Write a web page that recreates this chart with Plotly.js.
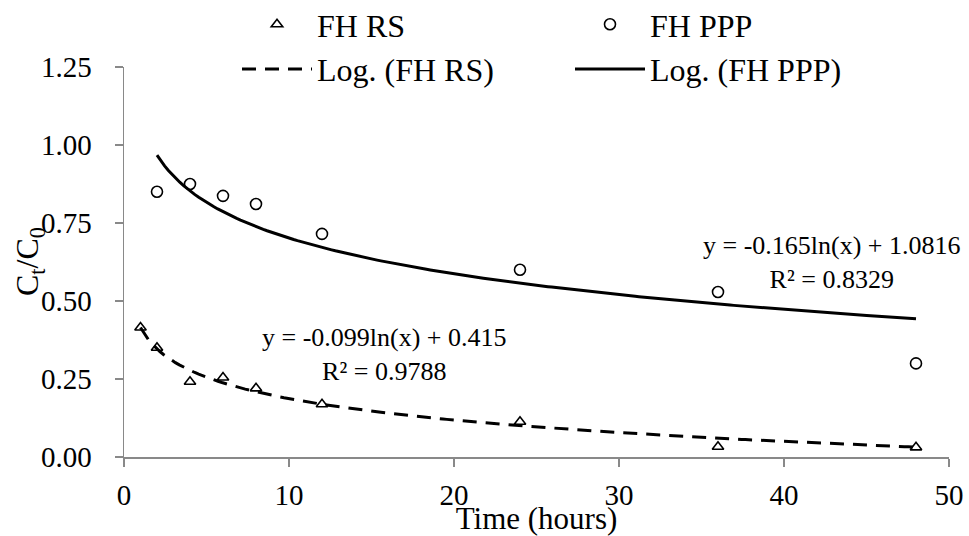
<!DOCTYPE html>
<html>
<head>
<meta charset="utf-8">
<script src="https://cdn.plot.ly/plotly-3.0.1.min.js"></script>
<style>html,body{margin:0;padding:0;background:#fff;}#chart{width:969px;height:536px;}</style>
</head>
<body>
<div id="chart"></div>
<script>
// Data
const timeHours = [1, 2, 4, 6, 8, 12, 24, 36, 48];
const fhRS = [0.415, 0.35, 0.241, 0.255, 0.22, 0.169, 0.113, 0.033, 0.031];
const timePPP = [2, 4, 6, 8, 12, 24, 36, 48];
const fhPPP = [0.85, 0.875, 0.837, 0.811, 0.715, 0.60, 0.529, 0.30];
// Logarithmic trendline coefficients shown on the chart: y = a*ln(x) + b
const rsFit = [-0.099, 0.415];
const pppFit = [-0.165, 1.0816];
const rsR2 = 0.9788;
const pppR2 = 0.8329;
const rsFitRange = [1, 48];
const pppFitRange = [2, 48];
const xTicks = [0, 10, 20, 30, 40, 50];
const yTicks = [0, 0.25, 0.5, 0.75, 1.0, 1.25];
const xTitle = 'Time (hours)';
const yTitle = 'C<sub>t</sub>/C<sub>0</sub>';

function trend(coef, range) {
  const xs = [], ys = [];
  const n = 200;
  for (let i = 0; i <= n; i++) {
    const x = range[0] + (range[1] - range[0]) * i / n;
    xs.push(x);
    ys.push(coef[0] * Math.log(x) + coef[1]);
  }
  return {xs, ys};
}
const rsT = trend(rsFit, rsFitRange);
const pppT = trend(pppFit, pppFitRange);

const FONT = 'Liberation Serif';
const AXC = '#898989';

const traces = [
  {x: timeHours, y: fhRS, name: 'FH RS', mode: 'markers', type: 'scatter',
   marker: {symbol: 'triangle-up-open', size: 10, color: '#000', line: {width: 1.6, color: '#000'}}},
  {x: timePPP, y: fhPPP, name: 'FH PPP', mode: 'markers', type: 'scatter',
   marker: {symbol: 'circle-open', size: 11, color: '#000', line: {width: 1.6, color: '#000'}}},
  {x: rsT.xs, y: rsT.ys, name: 'Log. (FH RS)', mode: 'lines', type: 'scatter',
   line: {color: '#000', width: 3, dash: '14px,9px'}},
  {x: pppT.xs, y: pppT.ys, name: 'Log. (FH PPP)', mode: 'lines', type: 'scatter',
   line: {color: '#000', width: 3}}
];

const fmt = v => v.toFixed(2);

const layout = {
  width: 969, height: 536,
  margin: {l: 124, r: 20, t: 67, b: 79, autoexpand: false},
  paper_bgcolor: '#fff', plot_bgcolor: '#fff',
  font: {family: FONT, size: 20, color: '#000'},
  showlegend: true,
  legend: {orientation: 'h', xref: 'container', yref: 'paper', x: 237 / 969, y: 1 + 70 / 390,
           xanchor: 'left', yanchor: 'top', itemwidth: 70,
           entrywidth: 248, entrywidthmode: 'pixels', font: {family: FONT, size: 32, color: '#000'},
           bgcolor: 'rgba(0,0,0,0)'},
  xaxis: {
    range: [0, 50], tickvals: xTicks, ticktext: xTicks.map(String), automargin: false,
    showgrid: false, zeroline: false, showline: true, linecolor: AXC, linewidth: 1.5,
    ticks: 'outside', ticklen: 8, tickcolor: AXC, tickwidth: 1.5, ticklabelstandoff: 4,
    tickfont: {family: FONT, size: 29, color: '#000'},
    title: {text: xTitle, font: {family: FONT, size: 31, color: '#000'}, standoff: 0}
  },
  yaxis: {
    range: [0, 1.25], tickvals: yTicks, ticktext: yTicks.map(fmt), automargin: false,
    showgrid: false, zeroline: false, showline: true, linecolor: AXC, linewidth: 1.5,
    ticks: 'outside', ticklen: 8, tickcolor: AXC, tickwidth: 1.5, ticklabelstandoff: 17,
    tickfont: {family: FONT, size: 29, color: '#000'}
  },
  annotations: [
    {x: 0, y: 0.5, xref: 'paper', yref: 'paper', xanchor: 'center', yanchor: 'middle', xshift: -95,
     showarrow: false, textangle: -90, text: yTitle,
     font: {family: FONT, size: 32, color: '#000'}},
    {x: 15.8, y: 0.327, xref: 'x', yref: 'y', showarrow: false, align: 'center',
     text: 'y = ' + rsFit[0].toFixed(3) + 'ln(x) + ' + rsFit[1].toFixed(3) + '<br>R² = ' + rsR2.toFixed(4),
     font: {family: FONT, size: 26, color: '#000'}},
    {x: 42.9, y: 0.622, xref: 'x', yref: 'y', showarrow: false, align: 'center',
     text: 'y = ' + pppFit[0].toFixed(3) + 'ln(x) + ' + pppFit[1].toFixed(4) + '<br>R² = ' + pppR2.toFixed(4),
     font: {family: FONT, size: 26, color: '#000'}}
  ]
};

Plotly.newPlot('chart', traces, layout, {displayModeBar: false, staticPlot: true});
</script>
</body>
</html>
